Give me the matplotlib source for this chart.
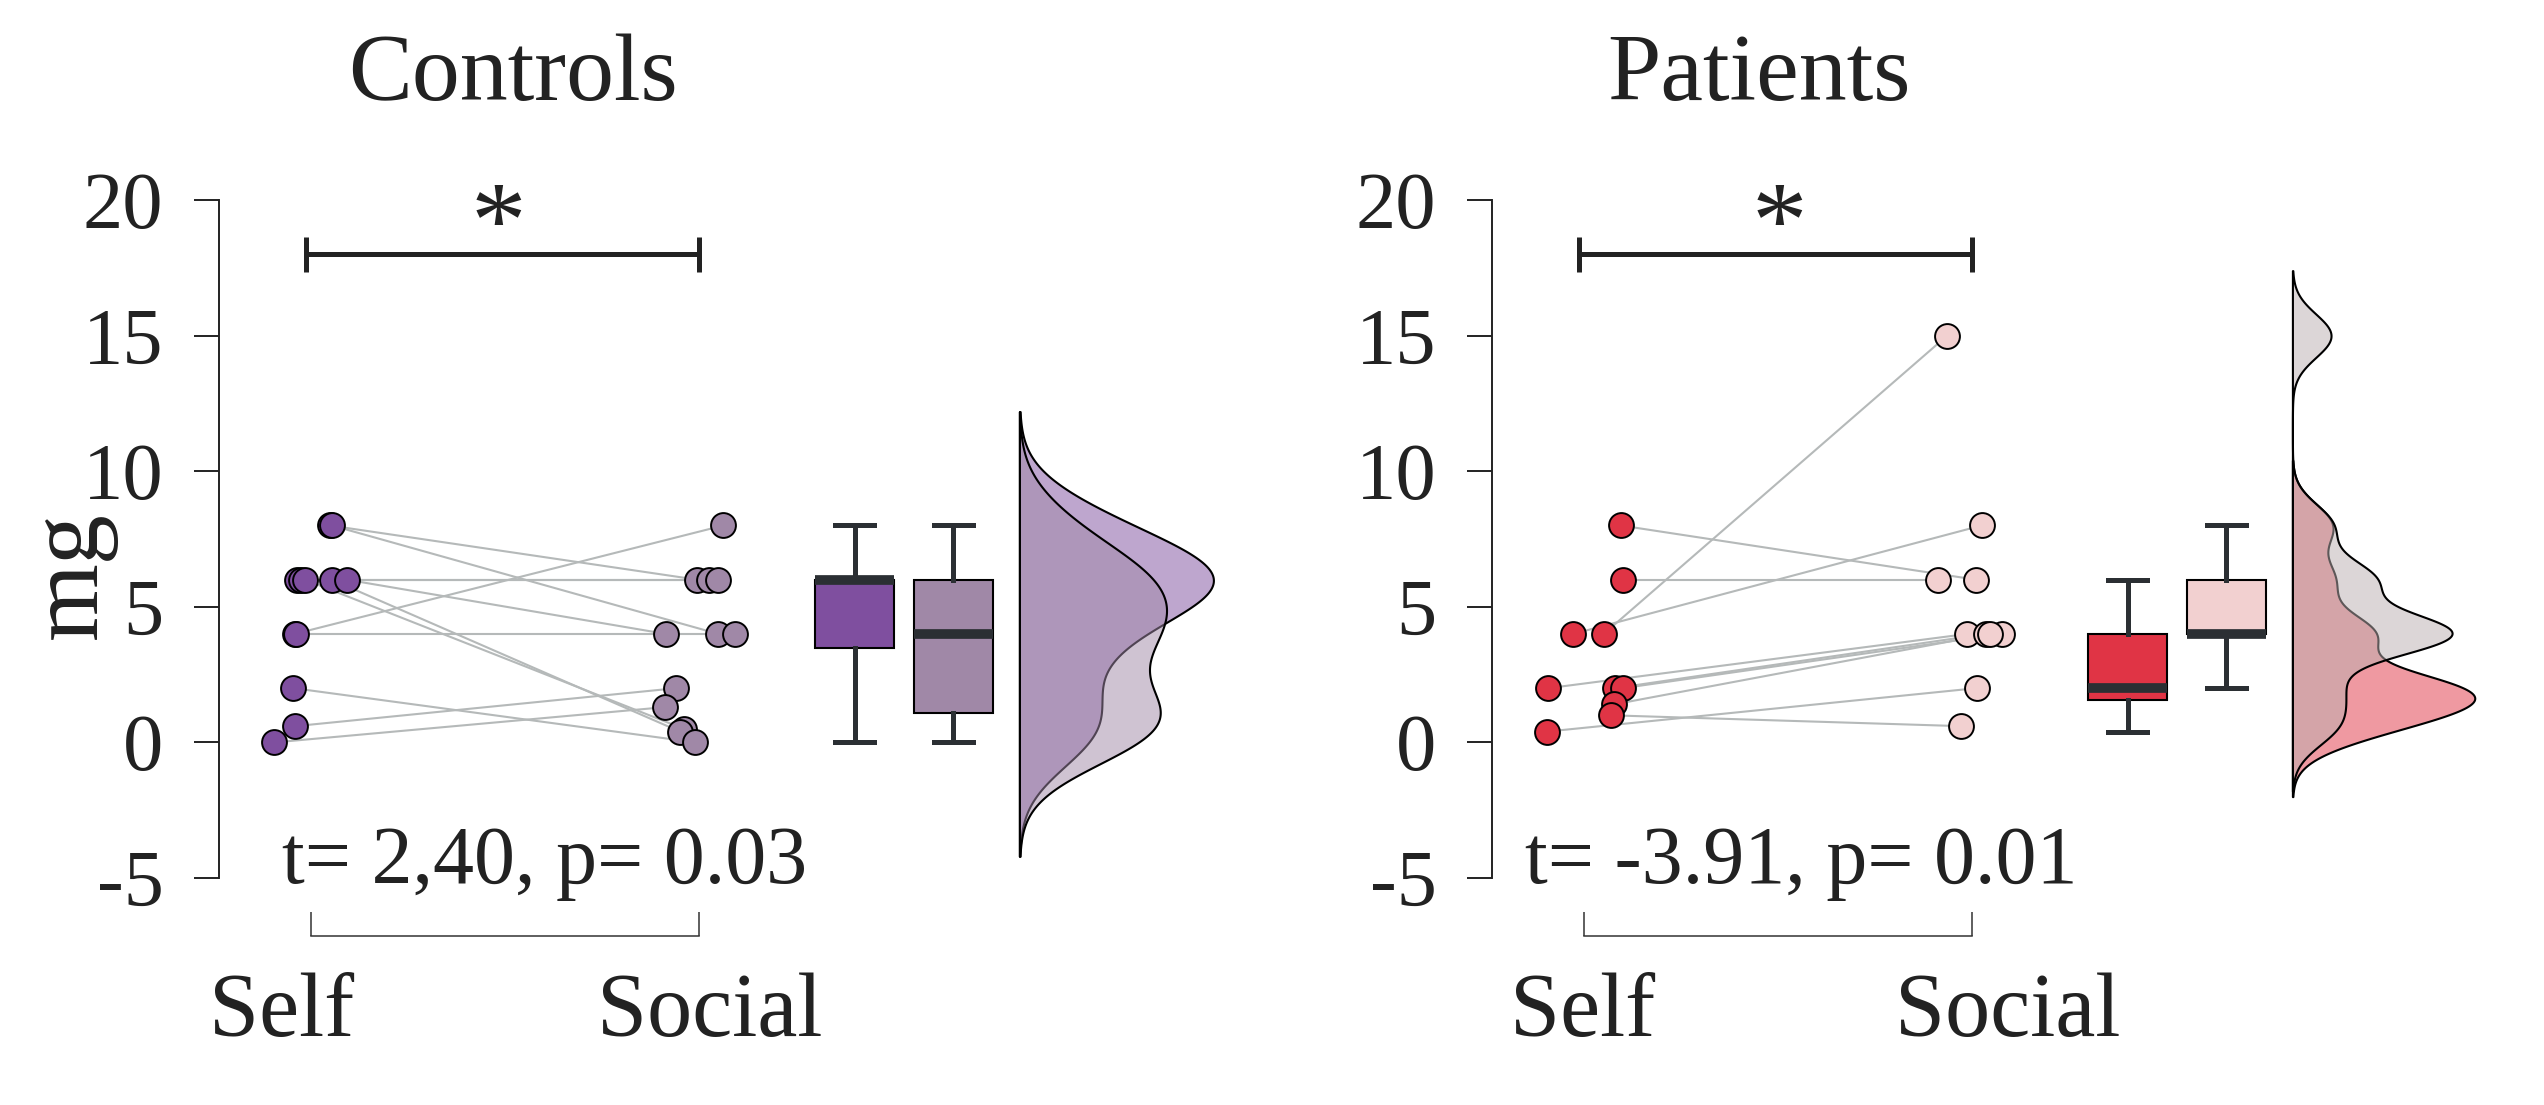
import numpy as np
import matplotlib
matplotlib.use('Agg')
import matplotlib.pyplot as plt
from matplotlib.colors import to_rgb

plt.rcParams['font.family'] = ['Liberation Serif', 'DejaVu Serif']
plt.rcParams['axes.unicode_minus'] = False

# paired amounts (mg), one entry per participant: Self condition -> Social condition
ctrl_self = [8, 8, 6, 6, 6, 6, 6, 4, 4, 2, 0.6, 0]
ctrl_social = [6, 4, 6, 6, 0.5, 0.4, 4, 8, 4, 0, 2, 1.3]
pat_self = [8, 6, 4, 4, 2, 2, 2, 1.4, 1.0, 0.4]
pat_social = [6, 6, 8, 15, 4, 4, 4, 4, 0.6, 2]

# horizontal jitter of the dots around each condition
ctrl_self_dx = [0.048, 0.053, -0.036, -0.026, -0.016, 0.053, 0.092, -0.043, -0.039, -0.046, -0.041, -0.095]
ctrl_social_dx = [-0.005, 0.049, 0.024, 0.049, -0.040, -0.050, -0.086, 0.062, 0.091, -0.010, -0.059, -0.089]
pat_self_dx = [0.094, 0.099, -0.029, 0.050, -0.093, 0.079, 0.099, 0.076, 0.068, -0.096]
pat_social_dx = [0.010, -0.089, 0.024, -0.065, -0.013, 0.034, 0.076, 0.045, -0.030, 0.011]

conditions = ['Self', 'Social']
groups = ['Controls', 'Patients']
stats = ['t= 2,40, p= 0.03', 't= -3.91, p= 0.01']
yticks = [-5, 0, 5, 10, 15, 20]

panels = [
    dict(title=groups[0], self_vals=ctrl_self, social_vals=ctrl_social,
         self_dx=ctrl_self_dx, social_dx=ctrl_social_dx, stat=stats[0],
         colors=['#7F4F9F', '#A088A7'], vcolors=['#7F4F9F', '#A088A7'],
         bw=1.4, vmax=0.5, title_x=0.52, star_x=0.483, stat_x=0.60,
         label_x=[-0.077, 1.027], left=219),
    dict(title=groups[1], self_vals=pat_self, social_vals=pat_social,
         self_dx=pat_self_dx, social_dx=pat_social_dx, stat=stats[1],
         colors=['#E03445', '#F2D0D0'], vcolors=['#E03445', '#BAAFB0'],
         bw=0.8, vmax=0.47, title_x=0.45, star_x=0.504, stat_x=0.558,
         label_x=[-0.004, 1.09], left=1492),
]


def kde(values, grid, bw):
    v = np.asarray(values, dtype=float)[:, None]
    z = (grid[None, :] - v) / bw
    return np.exp(-0.5 * z ** 2).sum(0) / (len(values) * bw * np.sqrt(2 * np.pi))


W, H = 2544, 1105
fig = plt.figure(figsize=(W / 100, H / 100), dpi=100)
ink = '#222222'
dark = '#2B2F33'

for p in panels:
    ax = fig.add_axes([p['left'] / W, 169 / H, 1023.5 / W, 763 / H])
    ax.set_xlim(-0.238, 2.4)
    ax.set_ylim(-7.14, 21.0)

    # paired lines
    for s, o, dx1, dx2 in zip(p['self_vals'], p['social_vals'], p['self_dx'], p['social_dx']):
        ax.plot([0 + dx1, 1 + dx2], [s, o], color='#B5B9B9', lw=1.5, zorder=1)

    # dots
    ax.scatter(np.array(p['self_dx']), p['self_vals'], s=320, c=p['colors'][0],
               edgecolors='black', linewidths=1.4, zorder=3)
    ax.scatter(1 + np.array(p['social_dx']), p['social_vals'], s=320, c=p['colors'][1],
               edgecolors='black', linewidths=1.4, zorder=3)

    # boxes
    bp = ax.boxplot([p['self_vals'], p['social_vals']], positions=[1.40, 1.655],
                    widths=0.205, patch_artist=True, showfliers=False, capwidths=0.1,
                    manage_ticks=False,
                    medianprops=dict(color=dark, lw=7, solid_capstyle='butt'),
                    whiskerprops=dict(color=dark, lw=3.6),
                    capprops=dict(color=dark, lw=3.6),
                    boxprops=dict(edgecolor='black', lw=1.5))
    for patch, c in zip(bp['boxes'], p['colors']):
        patch.set_facecolor(c)

    # half violins
    bw = p['bw']
    curves = []
    for vals in (p['self_vals'], p['social_vals']):
        grid = np.linspace(min(vals) - 3 * bw, max(vals) + 3 * bw, 500)
        curves.append((grid, kde(vals, grid, bw)))
    scale = p['vmax'] / max(d.max() for _, d in curves)
    base = 1.825
    for (grid, d), c in zip(curves, p['vcolors']):
        ax.fill_betweenx(grid, base, base + d * scale, facecolor=(*to_rgb(c), 0.5),
                         edgecolor='black', lw=1.5, zorder=2)

    # significance bracket
    ax.plot([-0.015, 1.0], [18, 18], color=ink, lw=3.6, solid_capstyle='butt')
    for x in (-0.015, 1.0):
        ax.plot([x, x], [17.35, 18.65], color=ink, lw=3.6, solid_capstyle='butt')
    ax.text(p['star_x'], 17.9, '*', ha='center', va='baseline', fontsize=80, color=ink)

    ax.text(p['stat_x'], -5.2, p['stat'], ha='center', va='baseline', fontsize=59, color=ink)
    ax.text(p['title_x'], 23.7, p['title'], ha='center', va='baseline', fontsize=69, color=ink)
    for lx, lab in zip(p['label_x'], conditions):
        ax.text(lx, -10.84, lab, ha='center', va='baseline', fontsize=65, color=ink)

    # axes styling
    for side in ('top', 'right'):
        ax.spines[side].set_visible(False)
    ax.spines['left'].set_bounds(-5, 20)
    ax.spines['left'].set_linewidth(1.4)
    ax.spines['left'].set_color(ink)
    ax.spines['bottom'].set_bounds(0, 1)
    ax.spines['bottom'].set_linewidth(1.1)
    ax.spines['bottom'].set_color('#333333')
    ax.set_yticks(yticks)
    ax.set_yticklabels([str(t) for t in yticks])
    ax.tick_params(axis='y', length=18, width=1.4, color=ink, pad=22,
                   labelsize=58, labelcolor=ink)
    ax.set_xticks([0, 1])
    ax.set_xticklabels(['', ''])
    ax.tick_params(axis='x', direction='in', length=17, width=1.1, color='#333333')

fig.text(72 / W, 1 - 575 / H, 'mg', rotation=90, fontsize=72, ha='center', va='center', color=ink)

fig.savefig('out.png', dpi=100)
